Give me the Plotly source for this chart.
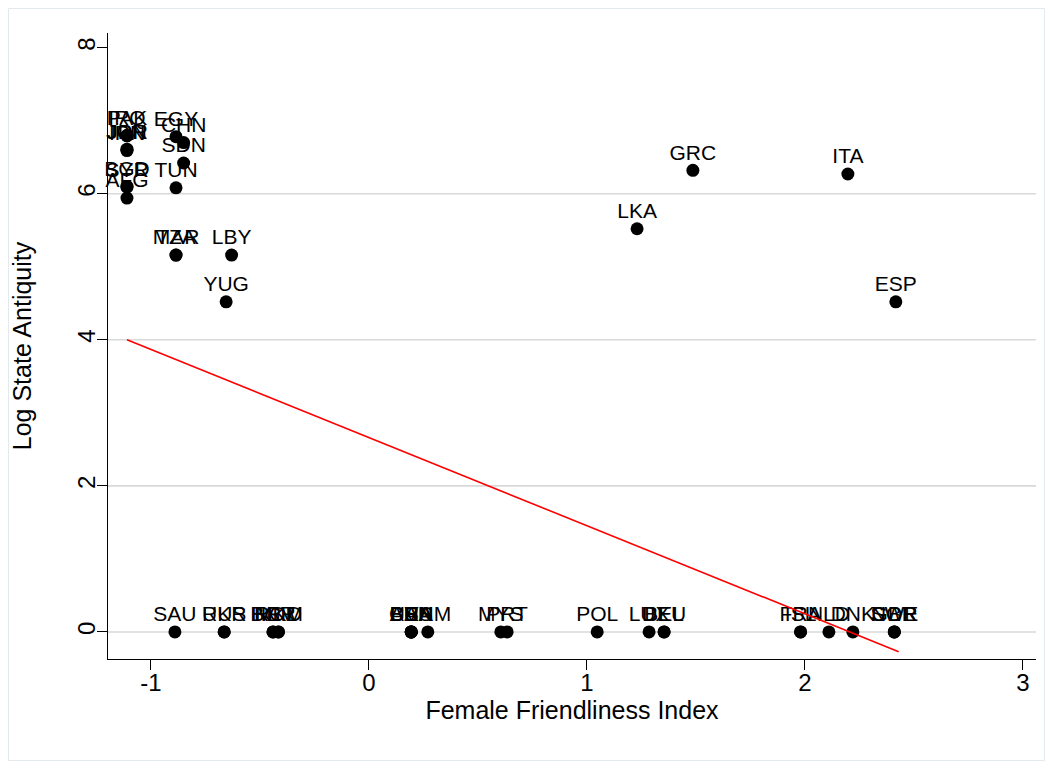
import plotly.graph_objects as go

# ---- data ----
countries = ["IRQ", "PAK", "JPN", "JOR", "IRN", "EGY", "CHN", "SDN", "BGD", "SYR", "TUN", "AFG",
             "MAR", "TZA", "LBY", "YUG", "GRC", "ITA", "LKA", "ESP",
             "SAU", "RUS", "UKR", "BGR", "HRV", "ROM", "MKD",
             "BRA", "CAN", "USA", "AUS", "BEN", "VNM", "MYS", "PRT", "POL", "LUX", "BEL", "DEU",
             "FRA", "ISL", "NLD", "DNK", "NOR", "SWE", "GBR"]
female_friendliness = [-1.11, -1.11, -1.11, -1.11, -1.11, -0.885, -0.85, -0.85, -1.11, -1.11, -0.885, -1.11,
                       -0.885, -0.885, -0.63, -0.655, 1.486, 2.197, 1.23, 2.417,
                       -0.89, -0.664, -0.664, -0.44, -0.44, -0.415, -0.415,
                       0.194, 0.194, 0.194, 0.194, 0.194, 0.27, 0.605, 0.634, 1.047, 1.285, 1.354, 1.354,
                       1.98, 1.98, 2.11, 2.22, 2.41, 2.41, 2.41]
log_state_antiquity = [6.80, 6.79, 6.60, 6.61, 6.59, 6.78, 6.70, 6.42, 6.10, 6.09, 6.08, 5.94,
                       5.16, 5.16, 5.16, 4.52, 6.32, 6.27, 5.52, 4.52,
                       0, 0, 0, 0, 0, 0, 0,
                       0, 0, 0, 0, 0, 0, 0, 0, 0, 0, 0, 0,
                       0, 0, 0, 0, 0, 0, 0]

fit_x = [-1.11, 2.43]
fit_y = [4.00, -0.27]

x_ticks = [-1, 0, 1, 2, 3]
y_ticks = [0, 2, 4, 6, 8]
y_grid = [0, 2, 4, 6]

FONT = "Liberation Sans, Arial, Helvetica, sans-serif"

fig = go.Figure()

# dots
fig.add_trace(go.Scatter(
    x=female_friendliness, y=log_state_antiquity, mode="markers",
    marker=dict(color="black", size=13, line=dict(width=0)),
    showlegend=False, cliponaxis=False, hoverinfo="skip",
))
# marker labels (smaller invisible anchor so labels sit closer to the dots)
fig.add_trace(go.Scatter(
    x=female_friendliness, y=log_state_antiquity, mode="markers+text",
    text=countries, textposition="top center",
    textfont=dict(family=FONT, size=21, color="black"),
    marker=dict(color="rgba(0,0,0,0)", size=7, line=dict(width=0)),
    showlegend=False, cliponaxis=False,
))

fig.add_trace(go.Scatter(
    x=fit_x, y=fit_y, mode="lines",
    line=dict(color="red", width=1.6),
    showlegend=False,
))

shapes = []
for g in y_grid:
    shapes.append(dict(type="line", xref="paper", yref="y", x0=0, x1=1, y0=g, y1=g,
                       line=dict(color="#d9d9d9", width=1.6), layer="below"))
# outer light frame
shapes.append(dict(type="rect", xref="paper", yref="paper", x0=-0.1072, x1=1.0092, y0=-0.1621, y1=1.0391,
                   line=dict(color="#e3eaee", width=1), layer="below"))

fig.update_layout(
    width=1037, height=753,
    margin=dict(l=100, r=9, t=25, b=102),
    paper_bgcolor="white", plot_bgcolor="white",
    font=dict(family=FONT, size=24, color="black"),
    shapes=shapes,
    xaxis=dict(
        range=[-1.197, 3.06], tickvals=x_ticks, ticktext=[str(v) for v in x_ticks],
        showgrid=False, zeroline=False, showline=True, linecolor="black", linewidth=1,
        ticks="outside", ticklen=10, tickcolor="black", tickwidth=1,
        tickfont=dict(family=FONT, size=24), automargin=False, ticklabelstandoff=-8,
        title=dict(text="Female Friendliness Index", font=dict(family=FONT, size=25), standoff=3),
    ),
    yaxis=dict(
        range=[-0.37, 8.2], tickvals=y_ticks, ticktext=[str(v) for v in y_ticks],
        showgrid=False, zeroline=False, showline=True, linecolor="black", linewidth=1,
        ticks="outside", ticklen=10, tickcolor="black", tickwidth=1, tickangle=-90,
        tickfont=dict(family=FONT, size=24), automargin=False, ticklabelstandoff=-8,
        title=dict(text="Log State Antiquity", font=dict(family=FONT, size=25), standoff=35),
    ),
)

fig.write_html("out.html")
